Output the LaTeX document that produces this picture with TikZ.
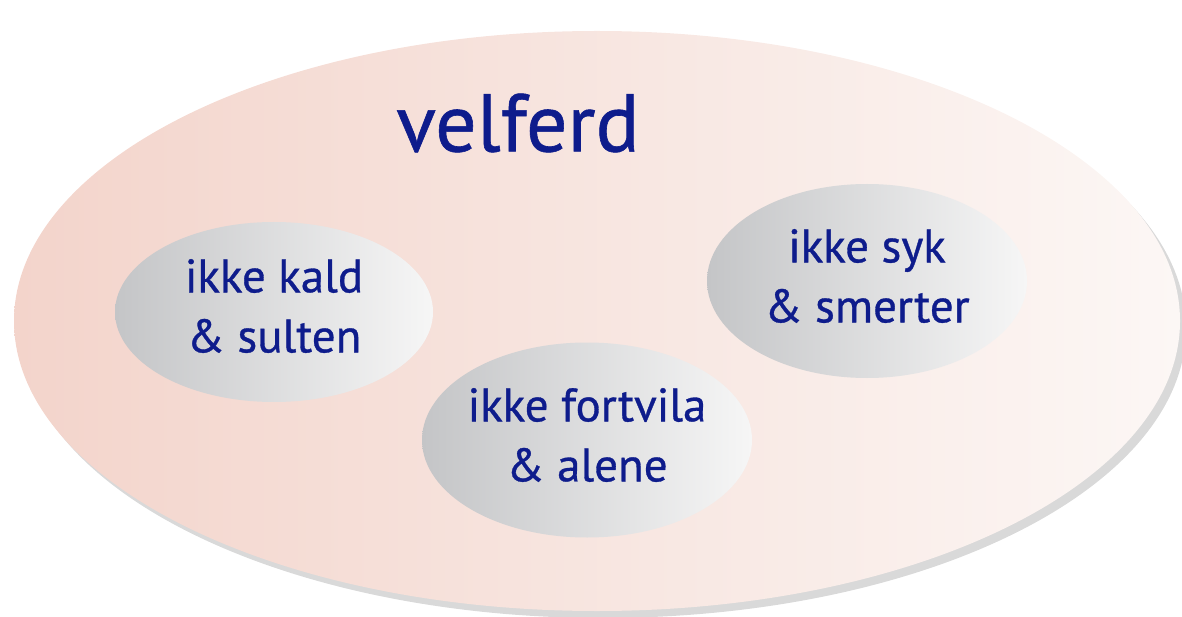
\documentclass[tikz,border=0pt]{standalone}
\usepackage{fontspec}
\setmainfont{PT Sans}[FakeBold=0.7]
\usetikzlibrary{shapes.geometric,shadows}
\definecolor{velblue}{RGB}{14,28,140}
\definecolor{pinkleft}{RGB}{243,212,203}
\definecolor{pinkright}{RGB}{252,247,245}
\definecolor{greyleft}{RGB}{196,197,199}
\definecolor{greyright}{RGB}{246,246,246}

\begin{document}
\begin{tikzpicture}[x=1pt, y=-1pt,
  every node/.style={inner sep=0pt, outer sep=0pt, text=velblue},
  whole/.style={ellipse, minimum width=1166pt, minimum height=580pt,
    left color=pinkleft, right color=pinkright,
    drop shadow={shadow xshift=6pt, shadow yshift=-7pt, opacity=0.3}},
  part/.style={ellipse, minimum width=320pt, minimum height=186pt,
    left color=greyleft, right color=greyright},
  parttext/.style={align=center, font=\fontsize{47}{60}\selectfont}]
\useasboundingbox (0,0) rectangle (1182,617);

\node[whole] (welfare) at (597,321) {};
\node[font=\fontsize{82}{82}\selectfont] (title) at (518,123) {velferd};

\node[part, minimum width=318pt, minimum height=180pt] (cold) at (274,312) {};
\node[part, minimum width=330pt, minimum height=195pt] (despair) at (587,440) {};
\node[part, minimum width=320pt, minimum height=194pt] (sick) at (867,281) {};

% labels sit a little above the centres
\node[parttext] (coldtext) at ([yshift=6pt]cold) {ikke kald\\ \& sulten};
\node[parttext] (despairtext) at ([yshift=5pt]despair) {ikke fortvila\\ \& alene};
\node[parttext] (sicktext) at ([yshift=5pt]sick) {ikke syk\\ \& smerter};
\end{tikzpicture}
\end{document}
